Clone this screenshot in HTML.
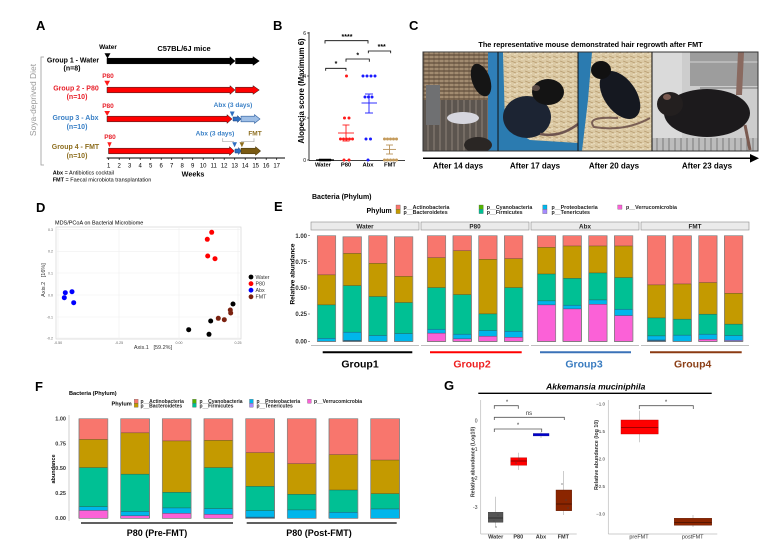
<!DOCTYPE html>
<html><head><meta charset="utf-8"><style>
html,body{margin:0;padding:0;background:#fff;}
svg{display:block;font-family:"Liberation Sans",Arial,sans-serif;}
.b{font-weight:bold}
.lbl{font-weight:bold;font-size:13px}
.s{vector-effect:non-scaling-stroke;stroke:#333;stroke-width:0.35}
.o{vector-effect:non-scaling-stroke;stroke:#888;stroke-width:0.7;fill:none}
</style></head><body>
<svg width="780" height="550" viewBox="0 0 780 550" xmlns="http://www.w3.org/2000/svg">
<defs>
<pattern id="grid1" width="5" height="4" patternUnits="userSpaceOnUse"><rect width="5" height="4" fill="#7b6650"/><line x1="0" y1="1" x2="5" y2="1" stroke="#c2a98a" stroke-width="1.1"/><line x1="4" y1="0" x2="4" y2="4" stroke="#5c4a3a" stroke-width="0.6"/></pattern>
<pattern id="bars1" width="6" height="6" patternUnits="userSpaceOnUse"><rect width="6" height="6" fill="#5c554f"/><line x1="2" y1="0" x2="2" y2="6" stroke="#8e8478" stroke-width="1"/></pattern>
<pattern id="shav" width="7" height="5" patternUnits="userSpaceOnUse"><rect width="7" height="5" fill="#dbc9a4"/><line x1="0" y1="1" x2="5" y2="3" stroke="#b89c70" stroke-width="0.8"/><line x1="3" y1="4.5" x2="7" y2="3.5" stroke="#efe3c8" stroke-width="0.8"/></pattern>
<pattern id="wire" width="6" height="13" patternUnits="userSpaceOnUse"><rect width="6" height="13" fill="#bcbcbc"/><line x1="3" y1="0" x2="3" y2="13" stroke="#7a7a7a" stroke-width="1"/></pattern>
<clipPath id="c1"><rect x="423" y="52" width="75" height="99"/></clipPath>
<clipPath id="c2"><rect x="498" y="52" width="80" height="99"/></clipPath>
<clipPath id="c3"><rect x="578" y="52" width="74" height="99"/></clipPath>
<clipPath id="c4"><rect x="652" y="52" width="106" height="99"/></clipPath>
</defs>

<!-- panel letters -->
<text x="36" y="30" class="lbl">A</text>
<text x="273" y="30" class="lbl">B</text>
<text x="409" y="30" class="lbl">C</text>
<text x="36" y="212" class="lbl">D</text>
<text x="274" y="211" class="lbl">E</text>
<text x="35" y="391" class="lbl">F</text>
<text x="444" y="390" class="lbl">G</text>

<!-- ================= PANEL A ================= -->
<text x="108" y="49" font-size="6.5" class="b" text-anchor="middle">Water</text>
<text x="184" y="51" font-size="7.5" class="b" text-anchor="middle">C57BL/6J mice</text>
<polyline points="44,57 41,57 41,165 44,165" fill="none" stroke="#999" stroke-width="0.8"/>
<text transform="translate(36,100) rotate(-90)" font-size="8.5" fill="#999" text-anchor="middle">Soya-deprived Diet</text>

<text x="73" y="62.5" font-size="7" class="b" text-anchor="middle">Group 1 - Water</text>
<text x="72" y="70.5" font-size="7" class="b" text-anchor="middle">(n=8)</text>
<text x="76" y="90.5" font-size="7" class="b" fill="#e8202a" text-anchor="middle">Group 2 - P80</text>
<text x="77" y="99" font-size="7" class="b" fill="#e8202a" text-anchor="middle">(n=10)</text>
<text x="75.5" y="120" font-size="7" class="b" fill="#3a80c6" text-anchor="middle">Group 3 - Abx</text>
<text x="77" y="129" font-size="7" class="b" fill="#3a80c6" text-anchor="middle">(n=10)</text>
<text x="75.5" y="149" font-size="7" class="b" fill="#8d6e1f" text-anchor="middle">Group 4 - FMT</text>
<text x="77" y="158" font-size="7" class="b" fill="#8d6e1f" text-anchor="middle">(n=10)</text>

<text x="108" y="78" font-size="6.5" class="b" fill="#e8202a" text-anchor="middle">P80</text>
<text x="108" y="108" font-size="6.5" class="b" fill="#e8202a" text-anchor="middle">P80</text>
<text x="110" y="139" font-size="6.5" class="b" fill="#e8202a" text-anchor="middle">P80</text>
<text x="233" y="107" font-size="6.5" class="b" fill="#3a80c6" text-anchor="middle">Abx (3 days)</text>
<text x="215" y="135.5" font-size="6.5" class="b" fill="#3a80c6" text-anchor="middle">Abx (3 days)</text>
<text x="255" y="135.5" font-size="6.5" class="b" fill="#8d6e1f" text-anchor="middle">FMT</text>
<polyline points="222.7,138.3 222.7,141.7 234,141.7" fill="none" stroke="#aaa" stroke-width="0.7"/>
<polyline points="241,141.7 254,141.7 254,138.3" fill="none" stroke="#aaa" stroke-width="0.7"/>

<!-- triangles -->
<polygon points="104.5,53.3 110.5,53.3 107.5,58.5" fill="#000"/>
<polygon points="104.3,80.7 110,80.7 107.2,86" fill="#ff1a1a"/>
<polygon points="104.3,111 110,111 107.2,116" fill="#ff1a1a"/>
<polygon points="229.8,111.5 234.6,111.5 232.2,116.7" fill="#2f6fc0"/>
<polygon points="107.3,142.3 111.7,142.3 109.5,147.3" fill="#ff1a1a"/>
<polygon points="232.2,142.3 237,142.3 234.6,147.3" fill="#2f6fc0"/>
<polygon points="239.5,142.3 244.3,142.3 241.9,147.3" fill="#8d6e1f"/>

<!-- arrows G1 -->
<polygon points="107,58.2 230,58.2 230,56.6 235,61 230,65.4 230,63.8 107,63.8" fill="#000" stroke="#000" stroke-width="0.5"/>
<polygon points="235.5,58.2 253,58.2 253,56.6 259.3,61 253,65.4 253,63.8 235.5,63.8" fill="#000" stroke="#000" stroke-width="0.5"/>
<!-- G2 -->
<polygon points="107,87.2 230,87.2 230,85.6 235,90 230,94.4 230,92.8 107,92.8" fill="#ff0000" stroke="#222" stroke-width="0.5"/>
<polygon points="235.5,87.2 253,87.2 253,85.6 259.3,90 253,94.4 253,92.8 235.5,92.8" fill="#ff0000" stroke="#222" stroke-width="0.5"/>
<!-- G3 -->
<polygon points="107,116.2 227,116.2 227,114.6 232,119 227,123.4 227,121.8 107,121.8" fill="#ff0000" stroke="#222" stroke-width="0.5"/>
<polygon points="233,117 237.5,117 237.5,115.5 241,119 237.5,122.5 237.5,121 233,121" fill="#2f6fc0" stroke="#1d3f7a" stroke-width="0.5"/>
<polygon points="241,116.2 254.5,116.2 254.5,114.6 260,119 254.5,123.4 254.5,121.8 241,121.8" fill="#9fbfe6" stroke="#2f5f9f" stroke-width="0.6"/>
<!-- G4 -->
<polygon points="108.5,148.2 229.5,148.2 229.5,146.6 234.3,151 229.5,155.4 229.5,153.8 108.5,153.8" fill="#ff0000" stroke="#222" stroke-width="0.5"/>
<polygon points="235,149 238.5,149 238.5,147.5 241.3,151 238.5,154.5 238.5,153 235,153" fill="#2f6fc0" stroke="#1d3f7a" stroke-width="0.5"/>
<polygon points="241,148.2 255.5,148.2 255.5,146.6 260.7,151 255.5,155.4 255.5,153.8 241,153.8" fill="#7a5a12" stroke="#3d2e08" stroke-width="0.5"/>

<!-- weeks axis -->
<line x1="106.7" y1="158" x2="285" y2="158" stroke="#000" stroke-width="1"/>
<g stroke="#000" stroke-width="0.7">
<line x1="108.7" y1="158" x2="108.7" y2="160"/><line x1="119.2" y1="158" x2="119.2" y2="160"/><line x1="129.7" y1="158" x2="129.7" y2="160"/><line x1="140.2" y1="158" x2="140.2" y2="160"/><line x1="150.7" y1="158" x2="150.7" y2="160"/><line x1="161.2" y1="158" x2="161.2" y2="160"/><line x1="171.7" y1="158" x2="171.7" y2="160"/><line x1="182.2" y1="158" x2="182.2" y2="160"/><line x1="192.7" y1="158" x2="192.7" y2="160"/><line x1="203.2" y1="158" x2="203.2" y2="160"/><line x1="213.7" y1="158" x2="213.7" y2="160"/><line x1="224.2" y1="158" x2="224.2" y2="160"/><line x1="234.7" y1="158" x2="234.7" y2="160"/><line x1="245.2" y1="158" x2="245.2" y2="160"/><line x1="255.7" y1="158" x2="255.7" y2="160"/><line x1="266.2" y1="158" x2="266.2" y2="160"/><line x1="276.7" y1="158" x2="276.7" y2="160"/>
</g>
<g font-size="6" text-anchor="middle">
<text x="108.7" y="167.5">1</text><text x="119.2" y="167.5">2</text><text x="129.7" y="167.5">3</text><text x="140.2" y="167.5">4</text><text x="150.7" y="167.5">5</text><text x="161.2" y="167.5">6</text><text x="171.7" y="167.5">7</text><text x="182.2" y="167.5">8</text><text x="192.7" y="167.5">9</text><text x="203.2" y="167.5">10</text><text x="213.7" y="167.5">11</text><text x="224.2" y="167.5">12</text><text x="234.7" y="167.5">13</text><text x="245.2" y="167.5">14</text><text x="255.7" y="167.5">15</text><text x="266.2" y="167.5">16</text><text x="276.7" y="167.5">17</text>
</g>
<text x="193" y="176.5" font-size="7.2" class="b" text-anchor="middle">Weeks</text>
<text x="52.7" y="174.5" font-size="5.5"><tspan class="b">Abx</tspan> = Antibiotics cocktail</text>
<text x="52.7" y="181.5" font-size="5.5"><tspan class="b">FMT</tspan> = Faecal microbiota transplantation</text>

<!-- ================= PANEL B ================= -->
<line x1="309" y1="32" x2="309" y2="160.5" stroke="#000" stroke-width="0.8"/>
<line x1="309" y1="160.5" x2="405" y2="160.5" stroke="#000" stroke-width="0.8"/>
<g stroke="#000" stroke-width="0.6"><line x1="307" y1="33" x2="309" y2="33"/><line x1="307" y1="76" x2="309" y2="76"/><line x1="307" y1="118" x2="309" y2="118"/><line x1="307" y1="160" x2="309" y2="160"/></g>
<g font-size="5" text-anchor="end"><text x="306" y="34.8">6</text><text x="306" y="77.8">4</text><text x="306" y="119.8">2</text><text x="306" y="161.8">0</text></g>
<text transform="translate(304,91) rotate(-90)" font-size="7.8" class="b" text-anchor="middle">Alopecia score (Maximum 6)</text>
<g font-size="5.8" class="b" text-anchor="middle"><text x="323" y="166.5">Water</text><text x="346" y="166.5">P80</text><text x="368" y="166.5">Abx</text><text x="390" y="166.5">FMT</text></g>
<g fill="none" stroke="#000" stroke-width="0.8">
<polyline points="325,43.5 325,40.7 368,40.7 368,43.5"/>
<polyline points="325.7,70.7 325.7,68.3 346,68.3 346,70.7"/>
<polyline points="346,61.7 346,59 369.3,59 369.3,61.7"/>
<polyline points="368.3,53.3 368.3,51 390.7,51 390.7,53.3"/>
</g>
<g font-size="7" class="b" text-anchor="middle"><text x="347" y="39">****</text><text x="336" y="66">*</text><text x="357.7" y="57.3">*</text><text x="381.7" y="49">***</text></g>
<!-- water -->
<g fill="#000"><circle cx="320" cy="160" r="1.4"/><circle cx="322" cy="160" r="1.4"/><circle cx="324" cy="160" r="1.4"/><circle cx="326" cy="160" r="1.4"/><circle cx="328" cy="160" r="1.4"/><circle cx="330" cy="160" r="1.4"/></g>
<line x1="316" y1="160" x2="334" y2="160" stroke="#000" stroke-width="1.2"/>
<!-- P80 -->
<g fill="#ff1a1a"><circle cx="346.5" cy="76" r="1.5"/><circle cx="344.5" cy="118" r="1.5"/><circle cx="349" cy="118" r="1.5"/><circle cx="340.5" cy="139" r="1.5"/><circle cx="343.5" cy="139" r="1.5"/><circle cx="346.5" cy="139" r="1.5"/><circle cx="349.5" cy="139" r="1.5"/><circle cx="352.5" cy="139" r="1.5"/><circle cx="344" cy="160" r="1.5"/><circle cx="349" cy="160" r="1.5"/></g>
<g stroke="#ff1a1a" stroke-width="0.9"><line x1="338" y1="133" x2="354" y2="133"/><line x1="346" y1="125" x2="346" y2="141"/><line x1="342.5" y1="125" x2="349.5" y2="125"/><line x1="342.5" y1="141" x2="349.5" y2="141"/></g>
<!-- Abx -->
<g fill="#1a1aff"><circle cx="363" cy="76" r="1.5"/><circle cx="367" cy="76" r="1.5"/><circle cx="371" cy="76" r="1.5"/><circle cx="375" cy="76" r="1.5"/><circle cx="365" cy="97" r="1.5"/><circle cx="368.5" cy="97" r="1.5"/><circle cx="372" cy="97" r="1.5"/><circle cx="366" cy="139" r="1.5"/><circle cx="370.5" cy="139" r="1.5"/><circle cx="368" cy="160" r="1.5"/></g>
<g stroke="#1a1aff" stroke-width="0.9"><line x1="361.5" y1="103" x2="377" y2="103"/><line x1="369" y1="94" x2="369" y2="113"/><line x1="365" y1="94" x2="373" y2="94"/><line x1="365" y1="113" x2="373" y2="113"/></g>
<!-- FMT -->
<g fill="#c49a5a"><circle cx="384.5" cy="139" r="1.5"/><circle cx="387.5" cy="139" r="1.5"/><circle cx="390.5" cy="139" r="1.5"/><circle cx="393.5" cy="139" r="1.5"/><circle cx="396.5" cy="139" r="1.5"/><circle cx="384.5" cy="160" r="1.5"/><circle cx="387.5" cy="160" r="1.5"/><circle cx="390.5" cy="160" r="1.5"/><circle cx="393.5" cy="160" r="1.5"/><circle cx="396.5" cy="160" r="1.5"/></g>
<g stroke="#b8925a" stroke-width="0.9"><line x1="383" y1="149.4" x2="396" y2="149.4"/><line x1="389.5" y1="145" x2="389.5" y2="154"/><line x1="386" y1="145" x2="393" y2="145"/><line x1="386" y1="154" x2="393" y2="154"/></g>

<!-- ================= PANEL C ================= -->
<text x="590.5" y="47" font-size="7.3" class="b" text-anchor="middle">The representative mouse demonstrated hair regrowth after FMT</text>
<g clip-path="url(#c1)">
<rect x="423" y="52" width="75" height="99" fill="url(#grid1)"/>
<rect x="423" y="100" width="65" height="51" fill="url(#bars1)"/>
<rect x="426" y="85" width="14" height="40" fill="#6f7072"/>
<ellipse cx="463" cy="118" rx="16" ry="6" fill="#d6d6de"/>
<rect x="488" y="52" width="10" height="99" fill="#2f7fb8"/>
<ellipse cx="481" cy="80" rx="9" ry="17" fill="#151515" transform="rotate(-20 481 80)"/>
<ellipse cx="478" cy="145" rx="14" ry="8" fill="#2a2624"/>
</g>
<g clip-path="url(#c2)">
<rect x="498" y="52" width="80" height="99" fill="url(#shav)"/>
<polygon points="498,52 503,52 505,125 530,140 578,143 578,151 498,151" fill="#2b7bb0"/>
<ellipse cx="527" cy="117" rx="24" ry="21" fill="#1c2433"/>
<ellipse cx="548" cy="92" rx="16" ry="13" fill="#141414"/>
<ellipse cx="536" cy="88" rx="4" ry="3" fill="#5a4a44"/>
<path d="M540,134 Q560,138 578,124" fill="none" stroke="#6e5550" stroke-width="2.5"/>
</g>
<g clip-path="url(#c3)">
<rect x="578" y="52" width="74" height="99" fill="url(#shav)"/>
<polygon points="578,52 592,52 588,100 582,151 578,151" fill="#2b7bb0"/>
<ellipse cx="620" cy="95" rx="16" ry="27" fill="#151820" transform="rotate(-35 620 95)"/>
<ellipse cx="601" cy="70" rx="10" ry="9" fill="#111"/>
<path d="M618,118 Q585,116 594,127 Q625,132 650,118" fill="none" stroke="#7a5f55" stroke-width="2"/>
</g>
<g clip-path="url(#c4)">
<rect x="652" y="52" width="106" height="99" fill="#cdcdcd"/>
<rect x="652" y="52" width="30" height="99" fill="#dadada"/>
<rect x="690" y="52" width="68" height="34" fill="#9d9d9d"/>
<line x1="690" y1="62" x2="758" y2="62" stroke="#b8b8b8" stroke-width="2"/>
<line x1="700" y1="88" x2="758" y2="88" stroke="#858585" stroke-width="1.2"/>
<rect x="652" y="138" width="106" height="13" fill="url(#wire)"/>
<polygon points="738,52 744,52 742,95 736,95" fill="#8a6a60"/>
<ellipse cx="707" cy="113" rx="43" ry="24" fill="#1c1a1c"/>
<ellipse cx="670" cy="104" rx="13" ry="12" fill="#231f1f"/>
<ellipse cx="667" cy="97" rx="4" ry="3" fill="#7a5a50"/>
<path d="M745,125 L750,150" stroke="#7a5a50" stroke-width="3"/>
</g>
<rect x="423" y="52" width="335" height="99" fill="none" stroke="#333" stroke-width="1"/>
<line x1="498" y1="52" x2="498" y2="151" stroke="#111" stroke-width="1"/>
<line x1="578" y1="52" x2="578" y2="151" stroke="#111" stroke-width="1"/>
<line x1="652" y1="52" x2="652" y2="151" stroke="#111" stroke-width="1"/>
<line x1="423" y1="158.3" x2="752" y2="158.3" stroke="#000" stroke-width="1.5"/>
<polygon points="750,154 759,158.3 750,162.6" fill="#000"/>
<g font-size="8" class="b" text-anchor="middle"><text x="458" y="168.5">After 14 days</text><text x="535" y="168.5">After 17 days</text><text x="614" y="168.5">After 20 days</text><text x="707" y="168.5">After 23 days</text></g>

<!-- ================= PANEL D ================= -->
<text x="55" y="224.5" font-size="5.5">MDS/PCoA on Bacterial Microbiome</text>
<rect x="56" y="227" width="185" height="112" fill="#fff" stroke="#d4d4d4" stroke-width="0.7"/>
<g stroke="#efefef" stroke-width="0.6">
<line x1="56" y1="229.6" x2="241" y2="229.6"/><line x1="56" y1="251.3" x2="241" y2="251.3"/><line x1="56" y1="273" x2="241" y2="273"/><line x1="56" y1="295" x2="241" y2="295"/><line x1="56" y1="317" x2="241" y2="317"/><line x1="56" y1="338" x2="241" y2="338"/>
<line x1="58" y1="227" x2="58" y2="339"/><line x1="119" y1="227" x2="119" y2="339"/><line x1="179" y1="227" x2="179" y2="339"/><line x1="238" y1="227" x2="238" y2="339"/>
</g>
<g font-size="3.6" fill="#666" text-anchor="end"><text x="53" y="231">0.3</text><text x="53" y="252.6">0.2</text><text x="53" y="274.3">0.1</text><text x="53" y="296.3">0.0</text><text x="53" y="318.3">-0.1</text><text x="53" y="339.5">-0.2</text></g>
<g font-size="3.6" fill="#666" text-anchor="middle"><text x="58" y="344">-0.50</text><text x="119" y="344">-0.25</text><text x="179" y="344">0.00</text><text x="238" y="344">0.25</text></g>
<text x="153" y="349" font-size="5.5" fill="#333" text-anchor="middle" xml:space="preserve">Axis.1   [59.2%]</text>
<text transform="translate(45,280) rotate(-90)" font-size="5.5" fill="#333" text-anchor="middle" xml:space="preserve">Axis.2   [16%]</text>
<g fill="#ff0000"><circle cx="211.7" cy="232.3" r="2.5"/><circle cx="207.3" cy="239.3" r="2.5"/><circle cx="207.7" cy="256" r="2.5"/><circle cx="215" cy="258.7" r="2.5"/></g>
<g fill="#0000ff"><circle cx="65.3" cy="292.7" r="2.5"/><circle cx="72" cy="291.7" r="2.5"/><circle cx="64.3" cy="297.7" r="2.5"/><circle cx="73.7" cy="302.7" r="2.5"/></g>
<g fill="#000"><circle cx="233" cy="304" r="2.5"/><circle cx="210.7" cy="321" r="2.5"/><circle cx="188.7" cy="329.7" r="2.5"/><circle cx="209" cy="334.3" r="2.5"/></g>
<g fill="#7b2210"><circle cx="218.3" cy="318.3" r="2.5"/><circle cx="224.3" cy="319.7" r="2.5"/><circle cx="230.3" cy="310" r="2.5"/><circle cx="230.7" cy="313" r="2.5"/></g>
<circle cx="251" cy="277" r="2.4" fill="#000"/><circle cx="251" cy="283.7" r="2.4" fill="#ff0000"/><circle cx="251" cy="290.2" r="2.4" fill="#0000ff"/><circle cx="251" cy="296.8" r="2.4" fill="#7b2210"/>
<g font-size="5.3" fill="#333"><text x="255.5" y="279">Water</text><text x="255.5" y="285.6">P80</text><text x="255.5" y="292.1">Abx</text><text x="255.5" y="298.7">FMT</text></g>

<!-- ================= PANEL E ================= -->
<text x="312" y="199" font-size="7" class="b">Bacteria (Phylum)</text>
<text x="366.5" y="213" font-size="7" class="b">Phylum</text>
<rect x="396" y="205" width="4.3" height="4.3" fill="#F8766D" stroke="#555" stroke-width="0.3"/>
<rect x="396" y="209.3" width="4.3" height="4.3" fill="#C49A00" stroke="#555" stroke-width="0.3"/>
<rect x="479" y="205" width="4.3" height="4.3" fill="#53B400" stroke="#555" stroke-width="0.3"/>
<rect x="479" y="209.3" width="4.3" height="4.3" fill="#00C094" stroke="#555" stroke-width="0.3"/>
<rect x="542.7" y="205" width="4.3" height="4.3" fill="#00B6EB" stroke="#555" stroke-width="0.3"/>
<rect x="542.7" y="209.3" width="4.3" height="4.3" fill="#A58AFF" stroke="#555" stroke-width="0.3"/>
<rect x="617.7" y="205" width="4.3" height="4.3" fill="#FB61D7" stroke="#555" stroke-width="0.3"/>
<g font-size="5.3" class="b" fill="#222">
<text x="403.5" y="209">p__Actinobacteria</text><text x="403.5" y="214.2">p__Bacteroidetes</text>
<text x="486.7" y="209">p__Cyanobacteria</text><text x="486.7" y="214.2">p__Firmicutes</text>
<text x="551.5" y="209">p__Proteobacteria</text><text x="551.5" y="214.2">p__Tenericutes</text>
<text x="626" y="209">p__Verrucomicrobia</text>
</g>
<g fill="#ebebeb" stroke="#8a8a8a" stroke-width="0.6">
<rect x="311" y="222" width="108" height="8"/><rect x="421" y="222" width="108" height="8"/><rect x="531" y="222" width="108" height="8"/><rect x="641" y="222" width="108" height="8"/>
</g>
<g font-size="6.3" class="b" text-anchor="middle" fill="#222"><text x="365" y="228.4">Water</text><text x="475" y="228.4">P80</text><text x="585" y="228.4">Abx</text><text x="695" y="228.4">FMT</text></g>
<g stroke="#aaa" stroke-width="0.8"><line x1="311" y1="345.6" x2="419" y2="345.6"/><line x1="421" y1="345.6" x2="529" y2="345.6"/><line x1="531" y1="345.6" x2="639" y2="345.6"/><line x1="641" y1="345.6" x2="749" y2="345.6"/></g>
<g font-size="6" class="b" fill="#333" text-anchor="end"><text x="307" y="237.8">1.00</text><text x="307" y="263.8">0.75</text><text x="307" y="290.1">0.50</text><text x="307" y="316.1">0.25</text><text x="307" y="343.6">0.00</text></g>
<g stroke="#333" stroke-width="0.5"><line x1="308" y1="235.7" x2="310" y2="235.7"/><line x1="308" y1="261.7" x2="310" y2="261.7"/><line x1="308" y1="288" x2="310" y2="288"/><line x1="308" y1="314" x2="310" y2="314"/><line x1="308" y1="341.5" x2="310" y2="341.5"/></g>
<text transform="translate(294.5,274) rotate(-90)" font-size="6.5" class="b" text-anchor="middle">Relative abundance</text>

<!-- E bars: scaled groups -->
<g transform="translate(317.3,341.5) scale(1,-105.8)"><rect class="s" width="18.4" height="1" fill="#F8766D"/><rect class="s" width="18.4" height="0.63" fill="#C49A00"/><rect class="s" width="18.4" height="0.346" fill="#00C094"/><rect class="s" width="18.4" height="0.03" fill="#00B6EB"/><rect class="o" width="18.4" height="1"/></g>
<g transform="translate(343,341.5) scale(1,-105.8)"><rect class="s" width="18.4" height="0.99" fill="#F8766D"/><rect class="s" width="18.4" height="0.833" fill="#C49A00"/><rect class="s" width="18.4" height="0.528" fill="#00C094"/><rect class="s" width="18.4" height="0.088" fill="#00B6EB"/><rect class="s" width="18.4" height="0.01" fill="#2a6f9a"/><rect class="o" width="18.4" height="0.99"/></g>
<g transform="translate(368.7,341.5) scale(1,-105.8)"><rect class="s" width="18.4" height="1" fill="#F8766D"/><rect class="s" width="18.4" height="0.739" fill="#C49A00"/><rect class="s" width="18.4" height="0.425" fill="#00C094"/><rect class="s" width="18.4" height="0.057" fill="#00B6EB"/><rect class="o" width="18.4" height="1"/></g>
<g transform="translate(394.4,341.5) scale(1,-105.8)"><rect class="s" width="18.4" height="0.99" fill="#F8766D"/><rect class="s" width="18.4" height="0.616" fill="#C49A00"/><rect class="s" width="18.4" height="0.368" fill="#00C094"/><rect class="s" width="18.4" height="0.075" fill="#00B6EB"/><rect class="o" width="18.4" height="0.99"/></g>

<g transform="translate(427.3,341.5) scale(1,-105.8)"><rect class="s" width="18.4" height="1" fill="#F8766D"/><rect class="s" width="18.4" height="0.792" fill="#C49A00"/><rect class="s" width="18.4" height="0.509" fill="#00C094"/><rect class="s" width="18.4" height="0.116" fill="#00B6EB"/><rect class="s" width="18.4" height="0.079" fill="#FB61D7"/><rect class="o" width="18.4" height="1"/></g>
<g transform="translate(453,341.5) scale(1,-105.8)"><rect class="s" width="18.4" height="1" fill="#F8766D"/><rect class="s" width="18.4" height="0.858" fill="#C49A00"/><rect class="s" width="18.4" height="0.443" fill="#00C094"/><rect class="s" width="18.4" height="0.069" fill="#00B6EB"/><rect class="s" width="18.4" height="0.025" fill="#FB61D7"/><rect class="o" width="18.4" height="1"/></g>
<g transform="translate(478.7,341.5) scale(1,-105.8)"><rect class="s" width="18.4" height="1" fill="#F8766D"/><rect class="s" width="18.4" height="0.777" fill="#C49A00"/><rect class="s" width="18.4" height="0.261" fill="#00C094"/><rect class="s" width="18.4" height="0.104" fill="#00B6EB"/><rect class="s" width="18.4" height="0.05" fill="#FB61D7"/><rect class="o" width="18.4" height="1"/></g>
<g transform="translate(504.4,341.5) scale(1,-105.8)"><rect class="s" width="18.4" height="1" fill="#F8766D"/><rect class="s" width="18.4" height="0.783" fill="#C49A00"/><rect class="s" width="18.4" height="0.509" fill="#00C094"/><rect class="s" width="18.4" height="0.097" fill="#00B6EB"/><rect class="s" width="18.4" height="0.04" fill="#FB61D7"/><rect class="o" width="18.4" height="1"/></g>

<g transform="translate(537.3,341.5) scale(1,-105.8)"><rect class="s" width="18.4" height="1" fill="#F8766D"/><rect class="s" width="18.4" height="0.89" fill="#C49A00"/><rect class="s" width="18.4" height="0.638" fill="#00C094"/><rect class="s" width="18.4" height="0.384" fill="#00B6EB"/><rect class="s" width="18.4" height="0.346" fill="#FB61D7"/><rect class="o" width="18.4" height="1"/></g>
<g transform="translate(563,341.5) scale(1,-105.8)"><rect class="s" width="18.4" height="1" fill="#F8766D"/><rect class="s" width="18.4" height="0.903" fill="#C49A00"/><rect class="s" width="18.4" height="0.597" fill="#00C094"/><rect class="s" width="18.4" height="0.343" fill="#00B6EB"/><rect class="s" width="18.4" height="0.308" fill="#FB61D7"/><rect class="o" width="18.4" height="1"/></g>
<g transform="translate(588.7,341.5) scale(1,-105.8)"><rect class="s" width="18.4" height="1" fill="#F8766D"/><rect class="s" width="18.4" height="0.903" fill="#C49A00"/><rect class="s" width="18.4" height="0.648" fill="#00C094"/><rect class="s" width="18.4" height="0.393" fill="#00B6EB"/><rect class="s" width="18.4" height="0.352" fill="#FB61D7"/><rect class="o" width="18.4" height="1"/></g>
<g transform="translate(614.4,341.5) scale(1,-105.8)"><rect class="s" width="18.4" height="1" fill="#F8766D"/><rect class="s" width="18.4" height="0.903" fill="#C49A00"/><rect class="s" width="18.4" height="0.604" fill="#00C094"/><rect class="s" width="18.4" height="0.305" fill="#00B6EB"/><rect class="s" width="18.4" height="0.245" fill="#FB61D7"/><rect class="o" width="18.4" height="1"/></g>

<g transform="translate(647.3,341.5) scale(1,-105.8)"><rect class="s" width="18.4" height="1" fill="#F8766D"/><rect class="s" width="18.4" height="0.535" fill="#C49A00"/><rect class="s" width="18.4" height="0.223" fill="#00C094"/><rect class="s" width="18.4" height="0.053" fill="#00B6EB"/><rect class="s" width="18.4" height="0.014" fill="#2a6f9a"/><rect class="o" width="18.4" height="1"/></g>
<g transform="translate(673,341.5) scale(1,-105.8)"><rect class="s" width="18.4" height="1" fill="#F8766D"/><rect class="s" width="18.4" height="0.544" fill="#C49A00"/><rect class="s" width="18.4" height="0.211" fill="#00C094"/><rect class="s" width="18.4" height="0.06" fill="#00B6EB"/><rect class="o" width="18.4" height="1"/></g>
<g transform="translate(698.7,341.5) scale(1,-105.8)"><rect class="s" width="18.4" height="1" fill="#F8766D"/><rect class="s" width="18.4" height="0.557" fill="#C49A00"/><rect class="s" width="18.4" height="0.258" fill="#00C094"/><rect class="s" width="18.4" height="0.069" fill="#00B6EB"/><rect class="s" width="18.4" height="0.02" fill="#FB61D7"/><rect class="o" width="18.4" height="1"/></g>
<g transform="translate(724.4,341.5) scale(1,-105.8)"><rect class="s" width="18.4" height="1" fill="#F8766D"/><rect class="s" width="18.4" height="0.456" fill="#C49A00"/><rect class="s" width="18.4" height="0.164" fill="#00C094"/><rect class="s" width="18.4" height="0.057" fill="#00B6EB"/><rect class="s" width="18.4" height="0.012" fill="#A58AFF"/><rect class="o" width="18.4" height="1"/></g>

<!-- group lines -->
<line x1="322.7" y1="352.3" x2="412.3" y2="352.3" stroke="#000" stroke-width="2"/>
<line x1="430" y1="352.3" x2="521.7" y2="352.3" stroke="#ff0000" stroke-width="2"/>
<line x1="540" y1="352.3" x2="631" y2="352.3" stroke="#3a72b8" stroke-width="2"/>
<line x1="650" y1="352.3" x2="741.7" y2="352.3" stroke="#8b3a12" stroke-width="2"/>
<g font-size="10.5" class="b" text-anchor="middle"><text x="360" y="367.5">Group1</text><text x="472" y="367.5" fill="#ee2020">Group2</text><text x="584" y="367.5" fill="#3a7cc0">Group3</text><text x="692.7" y="367.5" fill="#8b3f16">Group4</text></g>

<!-- ================= PANEL F ================= -->
<text x="69" y="394.8" font-size="5.6" class="b">Bacteria (Phylum)</text>
<text x="111.5" y="405.5" font-size="5.6" class="b">Phylum</text>
<rect x="134.3" y="399.3" width="3.8" height="4" fill="#F8766D" stroke="#555" stroke-width="0.3"/>
<rect x="134.3" y="403.3" width="3.8" height="4" fill="#C49A00" stroke="#555" stroke-width="0.3"/>
<rect x="192.5" y="399.3" width="3.8" height="4" fill="#53B400" stroke="#555" stroke-width="0.3"/>
<rect x="192.5" y="403.3" width="3.8" height="4" fill="#00C094" stroke="#555" stroke-width="0.3"/>
<rect x="249.5" y="399.3" width="3.8" height="4" fill="#00B6EB" stroke="#555" stroke-width="0.3"/>
<rect x="249.5" y="403.3" width="3.8" height="4" fill="#A58AFF" stroke="#555" stroke-width="0.3"/>
<rect x="307.5" y="399.3" width="3.8" height="4" fill="#FB61D7" stroke="#555" stroke-width="0.3"/>
<g font-size="5" class="b" fill="#222">
<text x="140.5" y="402.8">p__Actinobacteria</text><text x="140.5" y="407.3">p__Bacteroidetes</text>
<text x="199.5" y="402.8">p__Cyanobacteria</text><text x="199.5" y="407.3">p__Firmicutes</text>
<text x="256.5" y="402.8">p__Proteobacteria</text><text x="256.5" y="407.3">p__Tenericutes</text>
<text x="314" y="402.8">p__Verrucomicrobia</text>
</g>
<line x1="69" y1="415" x2="69" y2="521" stroke="#bbb" stroke-width="0.7"/>
<g font-size="5.5" class="b" fill="#333" text-anchor="end"><text x="66" y="420.6">1.00</text><text x="66" y="445.6">0.75</text><text x="66" y="470.2">0.50</text><text x="66" y="495.2">0.25</text><text x="66" y="520.2">0.00</text></g>
<text transform="translate(55,469) rotate(-90)" font-size="5.5" class="b" text-anchor="middle">abundance</text>

<g transform="translate(79,518.3) scale(1,-99.6)"><rect class="s" width="28.8" height="1" fill="#F8766D"/><rect class="s" width="28.8" height="0.792" fill="#C49A00"/><rect class="s" width="28.8" height="0.509" fill="#00C094"/><rect class="s" width="28.8" height="0.116" fill="#00B6EB"/><rect class="s" width="28.8" height="0.079" fill="#FB61D7"/><rect class="o" width="28.8" height="1"/></g>
<g transform="translate(120.7,518.3) scale(1,-99.6)"><rect class="s" width="28.8" height="1" fill="#F8766D"/><rect class="s" width="28.8" height="0.858" fill="#C49A00"/><rect class="s" width="28.8" height="0.443" fill="#00C094"/><rect class="s" width="28.8" height="0.069" fill="#00B6EB"/><rect class="s" width="28.8" height="0.025" fill="#FB61D7"/><rect class="o" width="28.8" height="1"/></g>
<g transform="translate(162.3,518.3) scale(1,-99.6)"><rect class="s" width="28.8" height="1" fill="#F8766D"/><rect class="s" width="28.8" height="0.777" fill="#C49A00"/><rect class="s" width="28.8" height="0.261" fill="#00C094"/><rect class="s" width="28.8" height="0.104" fill="#00B6EB"/><rect class="s" width="28.8" height="0.05" fill="#FB61D7"/><rect class="o" width="28.8" height="1"/></g>
<g transform="translate(204,518.3) scale(1,-99.6)"><rect class="s" width="28.8" height="1" fill="#F8766D"/><rect class="s" width="28.8" height="0.783" fill="#C49A00"/><rect class="s" width="28.8" height="0.509" fill="#00C094"/><rect class="s" width="28.8" height="0.097" fill="#00B6EB"/><rect class="s" width="28.8" height="0.04" fill="#FB61D7"/><rect class="o" width="28.8" height="1"/></g>
<g transform="translate(245.7,518.3) scale(1,-99.6)"><rect class="s" width="28.8" height="1" fill="#F8766D"/><rect class="s" width="28.8" height="0.659" fill="#C49A00"/><rect class="s" width="28.8" height="0.321" fill="#00C094"/><rect class="s" width="28.8" height="0.077" fill="#00B6EB"/><rect class="s" width="28.8" height="0.012" fill="#2a6f9a"/><rect class="o" width="28.8" height="1"/></g>
<g transform="translate(287.3,518.3) scale(1,-99.6)"><rect class="s" width="28.8" height="1" fill="#F8766D"/><rect class="s" width="28.8" height="0.548" fill="#C49A00"/><rect class="s" width="28.8" height="0.241" fill="#00C094"/><rect class="s" width="28.8" height="0.084" fill="#00B6EB"/><rect class="o" width="28.8" height="1"/></g>
<g transform="translate(329,518.3) scale(1,-99.6)"><rect class="s" width="28.8" height="1" fill="#F8766D"/><rect class="s" width="28.8" height="0.639" fill="#C49A00"/><rect class="s" width="28.8" height="0.284" fill="#00C094"/><rect class="s" width="28.8" height="0.06" fill="#00B6EB"/><rect class="o" width="28.8" height="1"/></g>
<g transform="translate(370.7,518.3) scale(1,-99.6)"><rect class="s" width="28.8" height="1" fill="#F8766D"/><rect class="s" width="28.8" height="0.585" fill="#C49A00"/><rect class="s" width="28.8" height="0.247" fill="#00C094"/><rect class="s" width="28.8" height="0.094" fill="#00B6EB"/><rect class="o" width="28.8" height="1"/></g>

<line x1="81" y1="523" x2="233" y2="523" stroke="#000" stroke-width="1.2"/>
<line x1="246.7" y1="523" x2="396.7" y2="523" stroke="#000" stroke-width="1.2"/>
<g font-size="9" class="b" text-anchor="middle"><text x="157" y="536">P80 (Pre-FMT)</text><text x="319" y="536">P80 (Post-FMT)</text></g>

<!-- ================= PANEL G ================= -->
<text x="595.7" y="389.5" font-size="8.5" font-weight="bold" font-style="italic" text-anchor="middle">Akkemansia muciniphila</text>
<line x1="478.3" y1="393.3" x2="711.7" y2="393.3" stroke="#000" stroke-width="1.3"/>
<!-- left -->
<line x1="480.7" y1="400" x2="480.7" y2="534" stroke="#bbb" stroke-width="0.7"/>
<line x1="480.7" y1="534" x2="576.7" y2="534" stroke="#bbb" stroke-width="0.7"/>
<g font-size="5" fill="#333" text-anchor="end"><text x="477.5" y="422.5">0</text><text x="477.5" y="451">-1</text><text x="477.5" y="480">-2</text><text x="477.5" y="509">-3</text></g>
<text transform="translate(474.5,462) rotate(-90)" font-size="5.3" class="b" fill="#333" text-anchor="middle">Relative abundance (Log10)</text>
<g font-size="5.5" class="b" fill="#333" text-anchor="middle"><text x="495.7" y="538.5">Water</text><text x="518.3" y="538.5">P80</text><text x="541" y="538.5">Abx</text><text x="563.3" y="538.5">FMT</text></g>
<g stroke="#aaa" stroke-width="0.6"><line x1="495.7" y1="496.7" x2="495.7" y2="527.3"/><line x1="518.3" y1="452.7" x2="518.3" y2="470"/><line x1="541" y1="432" x2="541" y2="438"/><line x1="563.3" y1="471" x2="563.3" y2="515"/></g>
<rect x="488.3" y="512.3" width="14.7" height="10" fill="#555" stroke="#333" stroke-width="0.4"/>
<line x1="488.3" y1="518" x2="503" y2="518" stroke="#222" stroke-width="0.7"/>
<rect x="510.7" y="457.7" width="16" height="7.6" fill="#ff0000" stroke="#b00" stroke-width="0.4"/>
<line x1="510.7" y1="461" x2="526.7" y2="461" stroke="#600" stroke-width="0.7"/>
<rect x="533.3" y="433.5" width="15.7" height="2.4" fill="#0000cd" stroke="#00008b" stroke-width="0.4"/>
<rect x="556" y="490" width="15.7" height="20.7" fill="#8b2500" stroke="#5a1800" stroke-width="0.4"/>
<line x1="556" y1="504" x2="571.7" y2="504" stroke="#3a0e00" stroke-width="0.7"/>
<g fill="#444"><circle cx="494" cy="521" r="0.6"/><circle cx="498" cy="515" r="0.6"/><circle cx="496" cy="527" r="0.6"/><circle cx="519" cy="459" r="0.6"/><circle cx="516" cy="463" r="0.6"/><circle cx="566" cy="500" r="0.6"/><circle cx="562" cy="484" r="0.6"/><circle cx="568" cy="508" r="0.6"/></g>
<g fill="none" stroke="#555" stroke-width="0.8">
<polyline points="494.3,408.7 494.3,405.7 518.3,405.7 518.3,408.7"/>
<polyline points="494.3,420 494.3,417.3 564.3,417.3 564.3,420"/>
<polyline points="494.3,432 494.3,429 541.7,429 541.7,432"/>
</g>
<g font-size="6" fill="#333" text-anchor="middle"><text x="507" y="404">*</text><text x="518" y="427">*</text></g>
<text x="529" y="415" font-size="6" fill="#333" text-anchor="middle">ns</text>
<!-- right -->
<line x1="608.3" y1="400" x2="608.3" y2="534" stroke="#bbb" stroke-width="0.7"/>
<line x1="608.3" y1="534" x2="717.3" y2="534" stroke="#bbb" stroke-width="0.7"/>
<g font-size="4.5" fill="#333" text-anchor="end"><text x="605" y="405.5">−1.0</text><text x="605" y="433">−1.5</text><text x="605" y="460.5">−2.0</text><text x="605" y="488">−2.5</text><text x="605" y="515.5">−3.0</text></g>
<text transform="translate(598,455) rotate(-90)" font-size="5.3" class="b" fill="#333" text-anchor="middle">Relative abundance (log 10)</text>
<g font-size="5.5" fill="#333" text-anchor="middle"><text x="639" y="538.5">preFMT</text><text x="692.7" y="538.5">postFMT</text></g>
<g stroke="#aaa" stroke-width="0.6"><line x1="639.7" y1="410.7" x2="639.7" y2="442.3"/><line x1="693" y1="515" x2="693" y2="527"/></g>
<rect x="621" y="420" width="37.3" height="14" fill="#ff0000" stroke="#b00" stroke-width="0.4"/>
<line x1="621" y1="427.3" x2="658.3" y2="427.3" stroke="#600" stroke-width="0.7"/>
<rect x="674.3" y="518.3" width="37.4" height="7" fill="#8b2500" stroke="#5a1800" stroke-width="0.4"/>
<line x1="674.3" y1="522.3" x2="711.7" y2="522.3" stroke="#3a0e00" stroke-width="0.7"/>
<polyline points="639.3,409 639.3,405.7 693.3,405.7 693.3,409" fill="none" stroke="#555" stroke-width="0.8"/>
<text x="666" y="404" font-size="6" fill="#333" text-anchor="middle">*</text>
</svg>
</body></html>
